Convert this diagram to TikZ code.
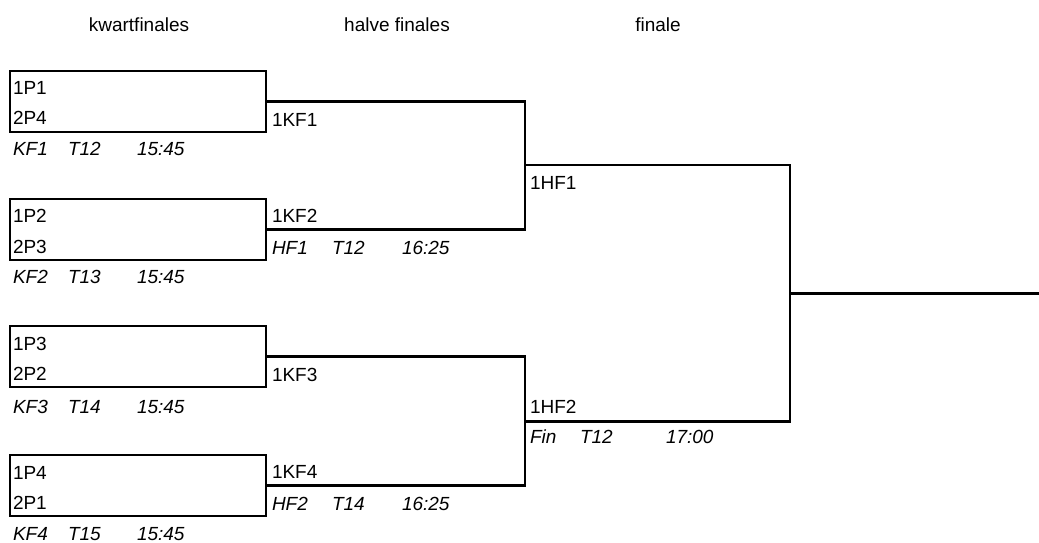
\documentclass[tikz,border=0pt]{standalone}
\usepackage{fontspec}
\setmainfont{Liberation Sans}
\begin{document}
\begin{tikzpicture}[x=1pt,y=-1pt,
  every node/.style={inner sep=0pt, outer sep=0pt},
  lbl/.style={anchor=base west, font=\fontsize{19}{22}\selectfont},
  info/.style={anchor=base west, font=\fontsize{19}{22}\selectfont\itshape},
  head/.style={anchor=base, font=\fontsize{19}{22}\selectfont},
  matchbox/.style={draw, line width=2.8pt, anchor=north west, minimum width=256pt, minimum height=61pt},
  conn/.style={line width=2.8pt, line join=miter}]
\useasboundingbox (0,0) rectangle (1039,543);
% headings
\node[head] (h1) at (139,31.5) {kwartfinales};
\node[head] (h2) at (397,31.5) {halve finales};
\node[head] (h3) at (658,31.5) {finale};
% quarter-final boxes
\node[matchbox] (kf1) at (10,71) {};
\node[matchbox] (kf2) at (10,199) {};
\node[matchbox] (kf3) at (10,326) {};
\node[matchbox] (kf4) at (10,455) {};
% texts in boxes
\node[lbl] (a1) at (13,95) {1P1};
\node[lbl] (b1) at (13,124) {2P4};
\node[info] (i1) at (13,155) {KF1};
\node[info] (j1) at (68,155) {T12};
\node[info] (k1) at (137,155) {15:45};
\node[lbl] (a2) at (13,222) {1P2};
\node[lbl] (b2) at (13,253) {2P3};
\node[info] (i2) at (13,283) {KF2};
\node[info] (j2) at (68,283) {T13};
\node[info] (k2) at (137,283) {15:45};
\node[lbl] (a3) at (13,350) {1P3};
\node[lbl] (b3) at (13,380) {2P2};
\node[info] (i3) at (13,413) {KF3};
\node[info] (j3) at (68,413) {T14};
\node[info] (k3) at (137,413) {15:45};
\node[lbl] (a4) at (13,479) {1P4};
\node[lbl] (b4) at (13,509) {2P1};
\node[info] (i4) at (13,540) {KF4};
\node[info] (j4) at (68,540) {T15};
\node[info] (k4) at (137,540) {15:45};
% semi-final brackets
\coordinate (hfx) at (525,0);
\draw[conn] (kf1.east) -- (kf1.east -| hfx) -- (kf2.east -| hfx) -- (kf2.east);
\draw[conn] (kf3.east) -- (kf3.east -| hfx) -- (kf4.east -| hfx) -- (kf4.east);
\node[lbl] (w1) at (272,126) {1KF1};
\node[lbl] (w2) at (272,222) {1KF2};
\node[info] (m1) at (272,254) {HF1};
\node[info] (n1) at (332,254) {T12};
\node[info] (o1) at (402,254) {16:25};
\node[lbl] (w3) at (272,381) {1KF3};
\node[lbl] (w4) at (272,478) {1KF4};
\node[info] (m2) at (272,510) {HF2};
\node[info] (n2) at (332,510) {T14};
\node[info] (o2) at (402,510) {16:25};
% final bracket
\coordinate (f1) at (525,165);
\coordinate (f2) at (525,421.5);
\coordinate (win) at (790,293.3);
\coordinate (fend) at (1039,293.3);
\draw[conn] (f1) -| (win) |- (f2);
\draw[conn] (win) -- (fend);
\node[lbl] (s1) at (530,189) {1HF1};
\node[lbl] (s2) at (530,413) {1HF2};
\node[info] (p1) at (530,443) {Fin};
\node[info] (q1) at (580,443) {T12};
\node[info] (r1) at (666,443) {17:00};
\end{tikzpicture}
\end{document}
